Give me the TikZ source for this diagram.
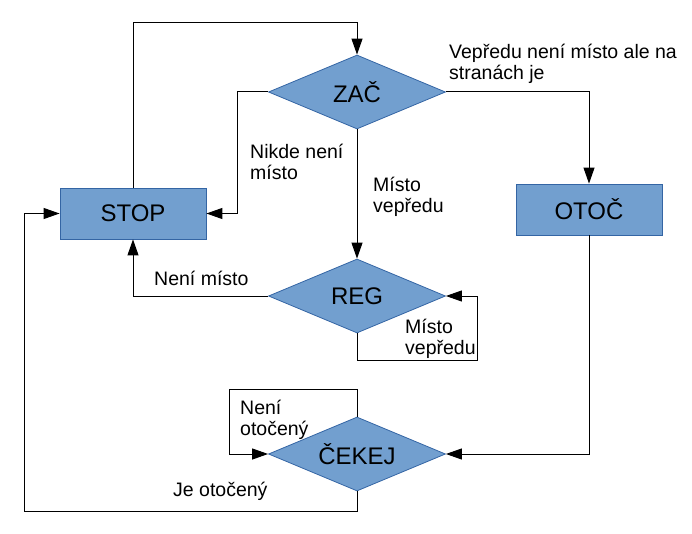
\documentclass[tikz,border=0pt]{standalone}
\usepackage{fontspec}
\setmainfont{Liberation Sans}
\usetikzlibrary{shapes.geometric,arrows.meta}
\definecolor{boxfill}{HTML}{729FCF}
\definecolor{boxline}{HTML}{3465A4}
\tikzset{
  state/.style = {draw=boxline, fill=boxfill, line width=0.8pt, inner sep=0pt,
                  font=\fontsize{24}{28}\selectfont},
  stav/.style = {state, rectangle, minimum width=146pt, minimum height=51pt},
  rozh/.style = {state, diamond, aspect=2.4, minimum width=177pt, minimum height=74pt},
  lbl/.style = {anchor=base west, inner sep=0pt, align=left,
                font=\fontsize{19.5}{21}\selectfont},
  arr/.style = {line width=1pt, -{Triangle[length=16pt,width=11pt]}}
}
\begin{document}
\begin{tikzpicture}[x=1pt, y=-1pt]
\useasboundingbox (0,0) rectangle (692,534);

\node[rozh] (zac) at (357,92) {ZAČ};
\node[stav] (stop) at (133,213.5) {STOP};
\node[stav] (otoc) at (589,209.5) {OTOČ};
\node[rozh] (reg) at (357,296) {REG};
\node[rozh] (cekej) at (357,454) {ČEKEJ};

% prechody
\draw[arr] (stop.north) |- (357,23) -- (zac.north);
\draw[arr] (zac.west) -- (237,92) |- (stop.east);
\draw[arr] (zac.south) -- (reg.north);
\draw[arr] (zac.east) -| (otoc.north);
\draw[arr] (reg.west) -| (stop.south);
\draw[arr] (reg.south) |- (477,360) |- (reg.east);
\draw[arr] (otoc.south) |- (cekej.east);
\draw[arr] (cekej.north) |- (229,389) |- (cekej.west);
\draw[arr] (cekej.south) |- (24,511) |- (stop.west);

% popisky (base = posledni radek)
\node[lbl] (l1) at (449,80) {Vepředu není místo ale na\\stranách je};
\node[lbl] (l2) at (250,180) {Nikde není\\místo};
\node[lbl] (l3) at (373,213) {Místo\\vepředu};
\node[lbl] (l4) at (154,285) {Není místo};
\node[lbl] (l5) at (405,354) {Místo\\vepředu};
\node[lbl] (l6) at (240,435) {Není\\otočený};
\node[lbl] (l7) at (173,496) {Je otočený};

\end{tikzpicture}
\end{document}
